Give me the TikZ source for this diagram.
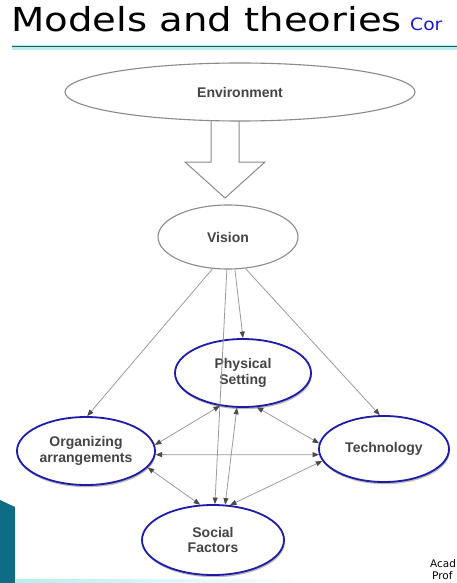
\documentclass[tikz,border=0pt]{standalone}
\usepackage{fontspec}
\setmainfont{Liberation Sans}
\newfontfamily\titlefont{DejaVu Sans}
\usetikzlibrary{arrows.meta,shapes.geometric,shadows}
\definecolor{lbl}{HTML}{444444}
\definecolor{ellgray}{HTML}{8A8A8A}
\definecolor{ellblue}{HTML}{1C1CA8}
\definecolor{linegray}{HTML}{9A9A9A}
\definecolor{tipgray}{HTML}{4A4A4A}
\definecolor{titleline}{HTML}{1F5E62}
\definecolor{titleglow}{HTML}{B5EEF0}
\definecolor{tealblock}{HTML}{0E6C84}
\definecolor{corblue}{HTML}{1A1ACC}
\begin{document}
\begin{tikzpicture}[x=1pt,y=-1pt,
  grayell/.style={ellipse, draw=ellgray, line width=1.1pt, fill=white, inner sep=0pt,
    font=\bfseries\fontsize{14}{15.5}\selectfont, text=lbl, align=center},
  blueell/.style={grayell, draw=ellblue, line width=1.8pt,
    drop shadow={shadow xshift=0.8pt, shadow yshift=-2.2pt, fill=gray!55, opacity=1}},
  conn/.style={draw=linegray, line width=0.8pt, -{Triangle[length=6.5pt,width=5pt,color=tipgray]}},
  dconn/.style={draw=linegray, line width=0.8pt, {Triangle[length=6.5pt,width=5pt,color=tipgray]}-{Triangle[length=6.5pt,width=5pt,color=tipgray]}}]
\useasboundingbox (0,0) rectangle (457,583);
\clip (0,0) rectangle (457,583);

% title
\node[anchor=base west, inner sep=0pt, xscale=1.17, font=\titlefont\fontsize{33}{36}\selectfont, text=black] (title) at (11,32) {Models and theories};
\node[anchor=base west, inner sep=0pt, xscale=1.1, font=\titlefont\fontsize{17}{19}\selectfont, text=corblue] (cor) at (410,31) {Cor};
\draw[line width=4.5pt, color=titleglow] (12,47.5) -- (457,47.5);
\draw[line width=1.4pt, color=titleline] (12,46.5) -- (457,46.5);

% decorations at the bottom
\fill[tealblock] (0,500) -- (15,507) -- (15,583) -- (0,583) -- cycle;
\shade[left color=titleglow, right color=white] (15,579.5) rectangle (320,582);
\node[anchor=base west, inner sep=0pt, font=\titlefont\fontsize{10.5}{12}\selectfont] (acad) at (430,567) {Acad};
\node[anchor=base west, inner sep=0pt, font=\titlefont\fontsize{10.5}{12}\selectfont] (prof) at (432,579) {Prof};

% big hollow arrow
\draw[draw=ellgray, line width=1pt, fill=white, line join=miter]
  (211,112) -- (211,162) -- (185,162) -- (225,198) -- (265,162) -- (239,162) -- (239,112);

% nodes
\node[grayell, minimum width=350pt, minimum height=58pt] (env) at (240,92) {Environment};
\node[grayell, minimum width=140pt, minimum height=64pt] (vision) at (228,237) {Vision};
\node[blueell, minimum width=136pt, minimum height=68pt] (phys) at (243,373) {Physical\\Setting};
\node[blueell, minimum width=138pt, minimum height=68pt] (org) at (86,451) {Organizing\\arrangements};
\node[blueell, minimum width=130pt, minimum height=66pt] (tech) at (384,449) {Technology};
\node[blueell, minimum width=142pt, minimum height=70pt] (soc) at (213,540) {Social\\Factors};

% connectors from Vision
\draw[conn] (vision.244) -- (org.88);
\draw[conn] (vision.282) -- (phys.north);
\draw[conn] (vision.299) -- (tech.97);
\draw[conn] (vision.268) -- (soc.87);

% mutual connectors
\draw[dconn] (phys.260) -- (soc.71);
\draw[dconn] (phys.235) -- (org.5);
\draw[dconn] (phys.292) -- (tech.175);
\draw[dconn] (org.357) -- (tech.185);
\draw[dconn] (org.345) -- (soc.110);
\draw[dconn] (tech.191) -- (soc.64);
\end{tikzpicture}
\end{document}
